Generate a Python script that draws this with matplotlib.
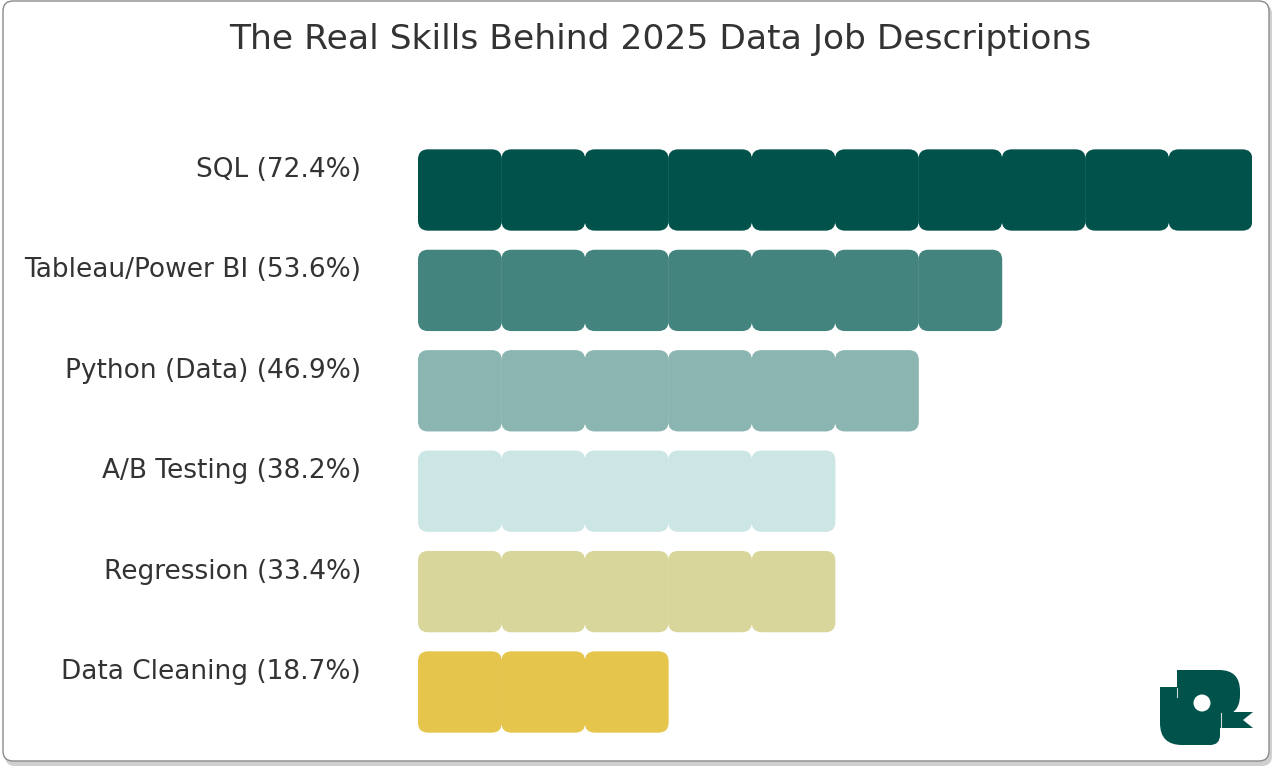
import numpy as np
import matplotlib
matplotlib.use("Agg")
import matplotlib.pyplot as plt
import matplotlib.transforms as mtransforms
from matplotlib.patches import FancyBboxPatch, Circle, Polygon

# data
skills = ["SQL", "Tableau/Power BI", "Python (Data)", "A/B Testing", "Regression", "Data Cleaning"]
shares = [72.4, 53.6, 46.9, 38.2, 33.4, 18.7]
colors = ["#00524a", "#44847e", "#8ab5b1", "#cce6e5", "#d9d69b", "#e5c54b"]
max_blocks = 10

blocks = [int(round(s / max(shares) * max_blocks)) for s in shares]
labels = [f"{k} ({v:.1f}%)" for k, v in zip(skills, shares)]

W, H = 1274, 768
fig = plt.figure(figsize=(W / 100, H / 100), dpi=100)

# background layer in pixel coords: frame + logo
bg = fig.add_axes([0, 0, 1, 1])
bg.set_xlim(0, W)
bg.set_ylim(H, 0)
bg.axis("off")

shadow = FancyBboxPatch((5, 4), 1267, 762, boxstyle="round,pad=0,rounding_size=10",
                        fc="#d0d0d0", ec="none", zorder=0)
frame = FancyBboxPatch((3, 1), 1266, 760, boxstyle="round,pad=0,rounding_size=10",
                       fc="white", ec="#8a8a8a", lw=1.0, zorder=1)
bg.add_patch(shadow)
bg.add_patch(frame)


def logo_box(x, y, w, h, r, z):
    bg.add_patch(FancyBboxPatch((x, y), w, h, boxstyle=f"round,pad=0,rounding_size={r}",
                                fc="#00524a", ec="none", zorder=z))


def logo_poly(pts, z):
    bg.add_patch(Polygon(pts, closed=True, fc="#00524a", ec="none", zorder=z))


# top-right piece (rounded top-right corner)
logo_box(1177, 670, 63, 46, 21, 2)
logo_poly([(1177, 670), (1205, 670), (1205, 716), (1177, 716)], 2)
logo_poly([(1177, 700), (1232, 700), (1232, 716), (1177, 716)], 2)
# ribbon with notch
logo_poly([(1215, 712), (1253, 712), (1243, 720), (1253, 728), (1215, 728)], 2)
# bottom-left piece: big round bottom-left, smaller bottom-right
logo_box(1160, 687, 60, 58, 22, 3)
logo_box(1190, 687, 30, 58, 10, 3)
logo_poly([(1160, 687), (1220, 687), (1220, 712), (1160, 712)], 3)
bg.plot([1177, 1177], [688, 697], color="white", lw=0.8, alpha=0.8, zorder=4)
bg.plot([1220.5, 1220.5], [713, 736], color="white", lw=0.8, alpha=0.8, zorder=4)
bg.add_patch(Circle((1202, 703), 8.5, fc="white", ec="none", zorder=5))

fig.text(660 / W, 1 - 39 / H, "The Real Skills Behind 2025 Data Job Descriptions",
         ha="center", va="center", fontsize=24.8, color="#333333")

# waffle rows
ax = fig.add_axes([418 / W, (H - 742.2) / H, 834 / W, 602.4 / H])
ax.set_xlim(0, max_blocks)
ax.set_ylim(len(skills) - 0.5, -0.5)
ax.patch.set_alpha(0)

bh = 0.81
for i, (n, c) in enumerate(zip(blocks, colors)):
    for j in range(n):
        ax.add_patch(FancyBboxPatch((j, i - bh / 2), 1.005, bh,
                                    boxstyle="round,pad=0,rounding_size=0.12",
                                    mutation_aspect=83.4 / 100.4,
                                    fc=c, ec="none"))

ax.set_yticks(range(len(skills)))
ax.set_yticklabels(labels, fontsize=19, color="#333333")
ax.tick_params(axis="y", length=0, pad=41)
ax.set_xticks([])
for sp in ax.spines.values():
    sp.set_visible(False)

# labels sit above the row centre in the reference
shift = mtransforms.ScaledTranslation(0, 20 / 100, fig.dpi_scale_trans)
for t in ax.get_yticklabels():
    t.set_va("center")
    t.set_transform(t.get_transform() + shift)

fig.savefig("out.png", dpi=100)
